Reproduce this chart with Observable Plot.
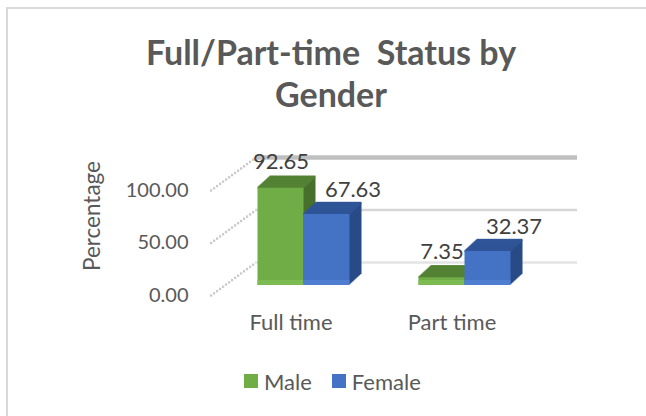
<!DOCTYPE html>
<html>
<head>
<meta charset="utf-8">
<script src="https://cdn.jsdelivr.net/npm/d3@7"></script>
<script src="https://cdn.jsdelivr.net/npm/@observablehq/plot@0.6"></script>
<style>
  html, body { margin: 0; padding: 0; background: #fff; overflow: hidden; }
  #wrap { position: relative; width: 646px; height: 416px; overflow: hidden; font-family: Lato, "Open Sans", sans-serif; }
  #border { position: absolute; left: 6px; top: 7px; width: 700px; height: 450px; border: 2px solid #d9d9d9; box-sizing: border-box; }
  #title { position: absolute; left: 0; top: 31px; width: 662px; text-align: center; font-weight: bold; font-size: 34px; line-height: 42px; color: #595959; white-space: pre; }
  #chart { position: absolute; left: 0; top: 0; }
  #legend { position: absolute; left: 244px; top: 369px; height: 24px; display: flex; align-items: center; font-size: 22px; color: #595959; }
  .sw { width: 14px; height: 14px; margin-right: 6px; }
  .item { display: flex; align-items: center; margin-right: 20px; }
</style>
</head>
<body>
<div id="wrap">
  <div id="border"></div>
  <div id="title">Full/Part-time  Status by
Gender</div>
  <div id="chart"></div>
  <div id="legend"></div>
</div>
<script>
// ---- data ----
const statuses = ["Full time", "Part time"];
const genders = ["Male", "Female"];
const male = [92.65, 7.35];
const female = [67.63, 32.37];
const yTicks = [0, 50, 100];
const yLabel = "Percentage";

// ---- styles ----
const colors = {
  Male:   {front: "#70ad47", top: "#548235", side: "#46702c", base: "#7cbb52"},
  Female: {front: "#4472c4", top: "#2f5597", side: "#284b87", base: "#4f7ed0"}
};

const data = statuses.flatMap((s, i) => [
  {status: s, gender: "Male", value: male[i]},
  {status: s, gender: "Female", value: female[i]}
]);

const W = 646, H = 416, mL = 210, mR = 114, mT = 190, mB = 121;
const frameW = W - mL - mR;
const BX = 13, BY = -10;     // bar plane offset from the front plane
const DX = 12, DY = 11, N = 12; // bar depth
const wallDX = 45, wallDY = 33; // back wall offset

function barMarks(g) {
  const d = data.filter(r => r.gender === g);
  const c = colors[g];
  const ins = g === "Male" ? {insetLeft: 34.5, insetRight: 80.5} : {insetLeft: 80.5, insetRight: 34.5};
  const marks = [];
  for (let k = 1; k <= N; k++) {
    marks.push(Plot.barY(d, {x: "status", y: "value", ...ins, fill: c.side, dx: BX + k * DX / N, dy: BY - k * DY / N}));
  }
  for (let k = 0; k <= N; k++) {
    marks.push(Plot.barY(d, {x: "status", y1: "value", y2: "value", insetTop: -1.2, insetBottom: -1.2, ...ins, fill: c.top, dx: BX + k * DX / N, dy: BY - k * DY / N}));
  }
  marks.push(Plot.barY(d, {x: "status", y: "value", ...ins, fill: c.front, dx: BX, dy: BY}));
  marks.push(Plot.barY(d, {x: "status", y1: 0, y2: 0, insetTop: -5, insetBottom: 0, ...ins, fill: c.base, dx: BX, dy: BY}));
  return marks;
}

const wallMarks = [];
for (let k = 0; k < 15; k++) {
  wallMarks.push(Plot.ruleY(yTicks, {dx: k * wallDX / 15, dy: -k * wallDY / 15, insetRight: frameW - 2.2, stroke: "#cacaca", strokeWidth: 2.4}));
}

const chart = Plot.plot({
  width: W, height: H,
  marginLeft: mL, marginRight: mR, marginTop: mT, marginBottom: mB,
  style: {fontFamily: "Lato, 'Open Sans', sans-serif", color: "#595959", background: "transparent", overflow: "visible"},
  x: {domain: statuses, padding: 0},
  y: {domain: [0, 100]},
  marks: [
    Plot.ruleY([0], {dx: wallDX, dy: -wallDY, stroke: "#e3e3e3", strokeWidth: 2.5}),
    Plot.ruleY([50], {dx: wallDX, dy: -wallDY, stroke: "#d6d6d6", strokeWidth: 2.5}),
    Plot.ruleY([100], {dx: wallDX, dy: -wallDY, stroke: "#bfbfbf", strokeWidth: 4.5}),
    ...wallMarks,
    ...barMarks("Male"),
    ...barMarks("Female"),
    Plot.text(data.filter(d => d.gender === "Male"), {x: "status", y: "value", text: d => d.value.toFixed(2), dx: -10, dy: -36, fontSize: 22, fill: "#404040", lineAnchor: "middle"}),
    Plot.text(data.filter(d => d.gender === "Female"), {x: "status", y: "value", text: d => d.value.toFixed(2), dx: 62, dy: -35, fontSize: 22, fill: "#404040", lineAnchor: "middle"}),
    Plot.axisY(yTicks, {tickSize: 0, tickPadding: 22, tickFormat: d3.format(".2f"), fontSize: 20, label: null}),
    Plot.axisX({tickSize: 0, tickPadding: 19, fontSize: 22, label: null}),
    Plot.text([yLabel], {frameAnchor: "left", textAnchor: "middle", rotate: -90, dx: -118, dy: -27, fontSize: 22.5, fill: "#595959"})
  ]
});
document.getElementById("chart").appendChild(chart);

const legend = document.getElementById("legend");
genders.forEach(g => {
  const it = document.createElement("div");
  it.className = "item";
  const sw = document.createElement("div");
  sw.className = "sw";
  sw.style.background = colors[g].front;
  const t = document.createElement("span");
  t.textContent = g;
  it.appendChild(sw); it.appendChild(t);
  legend.appendChild(it);
});
</script>
</body>
</html>
